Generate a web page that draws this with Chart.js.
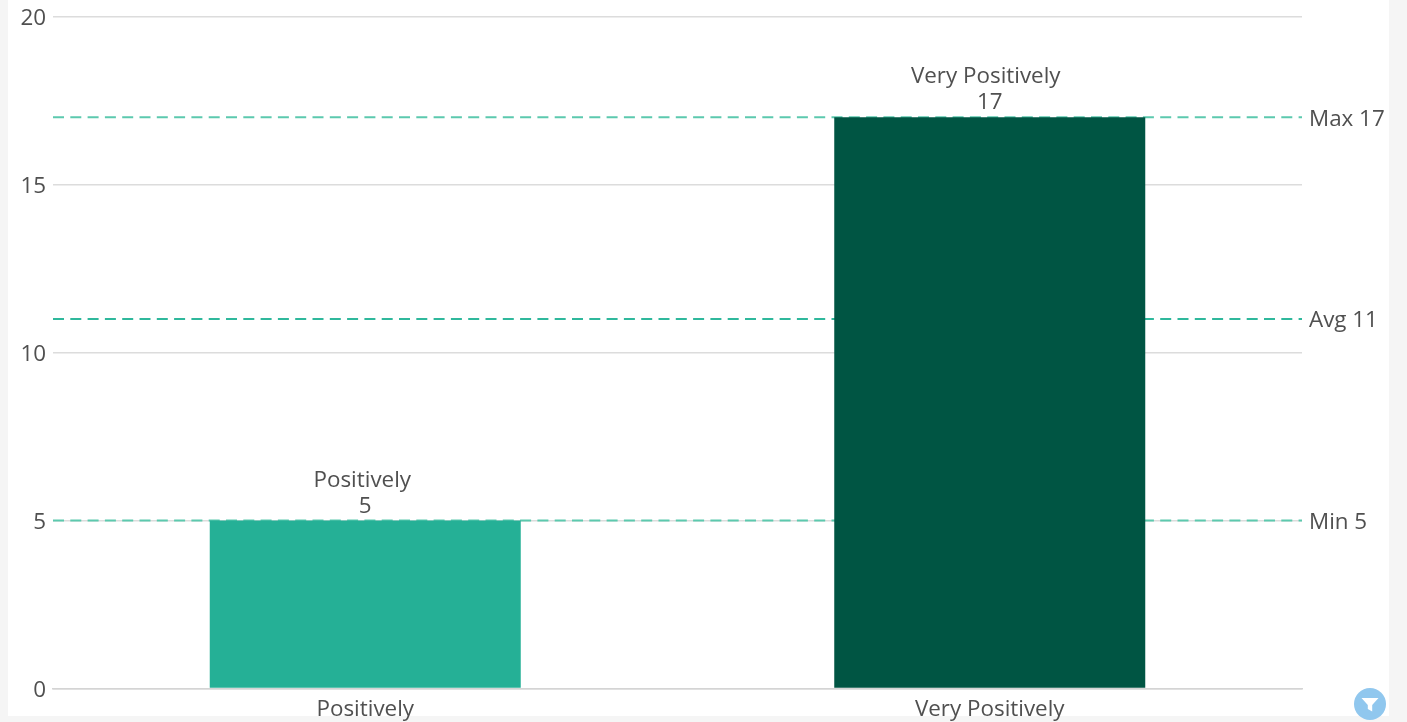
<!DOCTYPE html>
<html>
<head>
<meta charset="utf-8">
<style>
  html, body { margin: 0; padding: 0; background: #f5f5f5; overflow: hidden; }
  #card { position: absolute; left: 8px; top: 0; width: 1381px; height: 716px; background: #fff; }
  #wrap { position: absolute; left: 0; top: 0; width: 1407px; height: 722px; }
  #filter { position: absolute; left: 1354px; top: 688px; width: 32px; height: 32px; }
</style>
</head>
<body>
<div id="card"></div>
<div id="wrap"><canvas id="mycanvas1"></canvas></div>
<svg id="filter" viewBox="0 0 32 32">
  <circle cx="16" cy="16" r="16" fill="#90c7ee"/>
  <path d="M7.5 10 H24.5 L18.2 17 V23.5 L13.8 21 V17 Z" fill="#fff"/>
</svg>
<script src="https://cdn.jsdelivr.net/npm/chart.js@4"></script>
<script>
var categories = ['Positively', 'Very Positively'];
var values = [5, 17];
var barColors = ['#25b096', '#005543'];
var yTicks = [0, 5, 10, 15, 20];
var refNames = ['Max 17', 'Avg 11', 'Min 5'];
var refValues = [17, 11, 5];
var refColors = ['#5cc9ae', '#2fb89c', '#5cc9ae'];

var textColor = '#505050';
var fontName = '"Open Sans"';
var fontSize = 22.4;

// dashed lines go under the bars, their labels sit right of the plot
var refLines = {
  id: 'refLines',
  beforeDatasetsDraw: function(chart) {
    var c = chart.ctx, area = chart.chartArea, y = chart.scales.y;
    c.save();
    for (var i = 0; i < refValues.length; i++) {
      var py = y.getPixelForValue(refValues[i]);
      c.beginPath();
      c.setLineDash([11, 6.3]);
      c.lineWidth = 2;
      c.strokeStyle = refColors[i];
      c.moveTo(area.left, py);
      c.lineTo(area.right, py);
      c.stroke();
      c.setLineDash([]);
      c.fillStyle = textColor;
      c.font = fontSize + 'px ' + fontName;
      c.textAlign = 'left';
      c.textBaseline = 'middle';
      c.fillText(refNames[i], area.right + 7, py + 2);
    }
    c.restore();
  }
};

// category name and value above each bar
var barLabels = {
  id: 'barLabels',
  afterDatasetsDraw: function(chart) {
    var c = chart.ctx, bars = chart.getDatasetMeta(0).data;
    c.save();
    c.fillStyle = textColor;
    c.font = fontSize + 'px ' + fontName;
    c.textAlign = 'center';
    c.textBaseline = 'alphabetic';
    for (var i = 0; i < bars.length; i++) {
      c.fillText(categories[i], bars[i].x - 3 - i, bars[i].y - 34);
      c.fillText(values[i], bars[i].x, bars[i].y - 8);
    }
    c.restore();
  }
};

var chartdata = {
  labels: categories,
  datasets: [{
    data: values,
    backgroundColor: barColors,
    barPercentage: 0.498,
    categoryPercentage: 1
  }]
};

new Chart(document.getElementById('mycanvas1'), {
  type: 'bar',
  data: chartdata,
  plugins: [refLines, barLabels],
  options: {
    responsive: true,
    maintainAspectRatio: false,
    animation: false,
    layout: { padding: { left: 0, right: 105, top: 16.5, bottom: 0 } },
    plugins: { legend: { display: false }, tooltip: { enabled: false } },
    scales: {
      x: {
        grid: { display: false },
        border: { color: '#d4d4d4', width: 1.5 },
        ticks: { color: textColor, font: { family: fontName, size: fontSize }, padding: 0, maxRotation: 0 },
        afterFit: function(s) { s.height = 33.5; }
      },
      y: {
        min: 0,
        max: 20,
        afterBuildTicks: function(s) { s.ticks = yTicks.map(function(v) { return { value: v }; }); },
        grid: { color: '#dcdcdc', lineWidth: 1.5, drawTicks: false },
        border: { display: false },
        ticks: { color: textColor, font: { family: fontName, size: fontSize }, padding: 7, labelOffset: 2 },
        afterFit: function(s) { s.width = 53; s.paddingTop = 0; s.paddingBottom = 0; }
      }
    }
  }
});
</script>
</body>
</html>
